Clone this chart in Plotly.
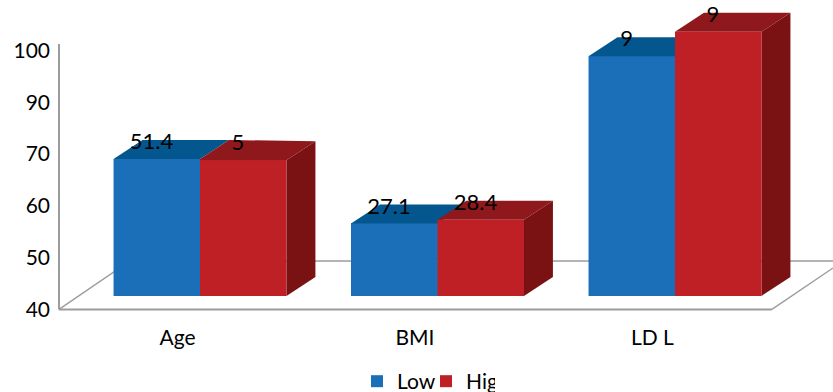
import plotly.graph_objects as go

categories = ["Age", "BMI", "LD L"]
low_heights = [69.05, 56.6, 88.9]
high_heights = [68.8, 57.3, 93.6]
low_labels = ["51.4", "27.1", "9"]
high_labels = ["5", "28.4", "9"]
y_tick_values = [40, 50, 60, 70, 80, 90]
y_tick_labels = ["40", "50", "60", "70", "90", "100"]

FONT = "Lato, Carlito, sans-serif"
BASE = 42.6
BAR_W = 0.364
DX = 0.122
DY = 3.67
BLUE, BLUE_TOP = "#1B6FB8", "#04568F"
RED, RED_TOP, RED_SIDE = "#BE2026", "#8E181B", "#7A1214"
GRAY = "#9C9C9C"

xs = list(range(len(categories)))
fig = go.Figure()


def poly(px, py, color):
    fig.add_trace(go.Scatter(x=px, y=py, mode="lines", fill="toself", fillcolor=color,
                             line=dict(width=0, color=color), showlegend=False, hoverinfo="skip"))


def gline(px, py, w=1.4):
    fig.add_trace(go.Scatter(x=px, y=py, mode="lines", line=dict(color=GRAY, width=w),
                             showlegend=False, hoverinfo="skip"))


fig.add_trace(go.Bar(x=[i - BAR_W / 2 for i in xs], y=[v - BASE for v in low_heights], base=BASE,
                     width=BAR_W, marker=dict(color=BLUE, line=dict(width=0)), name="Low"))
fig.add_trace(go.Bar(x=[i + BAR_W / 2 for i in xs], y=[v - BASE for v in high_heights], base=BASE,
                     width=BAR_W, marker=dict(color=RED, line=dict(width=0)), name="Hig"))

# floor and axis lines
gline([-0.5937, -0.5937], [91.25, 40], 2)
gline([-0.5937, 2.408], [40, 40], 2)
gline([2.408, 2.6653], [40, 48.0])
gline([-0.5937, -0.295, 2.6653], [40, 49.36, 49.36])

# bar fronts above the lines, then depth faces in painter's order
for i, lo, hi in zip(xs, low_heights, high_heights):
    x0, x1, x2 = i - BAR_W, i, i + BAR_W
    edge = max(lo, hi)
    poly([x0, x1, x1, x0, x0], [BASE, BASE, lo, lo, BASE], BLUE)
    poly([x0, x0 + DX, x1 + DX, x1, x0], [lo, lo + DY, lo + DY, lo, lo], BLUE_TOP)
    poly([x1, x1, x1 + DX, x2 + DX, x2, x1], [hi, edge, edge + DY, hi + DY, hi, hi], RED_TOP)
    poly([x2, x2 + DX, x2 + DX, x2, x2], [BASE, BASE + DY, hi + DY, hi, BASE], RED_SIDE)
    poly([x1, x2, x2, x1, x1], [BASE, BASE, hi, hi, BASE], RED)

# data labels
label_x = [i - BAR_W / 2 - 0.022 for i in xs] + [i + BAR_W / 2 - 0.022 for i in xs]
label_y = [v + DY - 0.7 for v in low_heights] + [v + DY - 0.7 for v in high_heights]
fig.add_trace(go.Scatter(x=label_x, y=label_y, mode="text", text=low_labels + high_labels,
                         textposition="middle center", textfont=dict(family=FONT, size=22, color="#000000"),
                         cliponaxis=False, showlegend=False, hoverinfo="skip"))

fig.update_layout(
    width=833, height=392, autosize=False,
    margin=dict(l=57, r=0, t=0, b=80, autoexpand=False),
    paper_bgcolor="white", plot_bgcolor="white",
    barmode="overlay", bargap=0,
    font=dict(family=FONT, color="#000000"),
    showlegend=True,
    legend=dict(orientation="h", xref="container", yref="container",
                x=0.4286, y=0.079, xanchor="left", yanchor="top",
                font=dict(family=FONT, size=21), entrywidth=24, entrywidthmode="pixels",
                bgcolor="rgba(0,0,0,0)", itemclick=False, itemdoubleclick=False,
                traceorder="normal", tracegroupgap=0),
    xaxis=dict(range=[(57 - 200) / 237.5, 2.6653], showgrid=False, zeroline=False, showline=False,
               tickmode="array", tickvals=[i - 0.095 for i in xs], ticktext=categories,
               ticks="", ticklabelstandoff=11, tickfont=dict(family=FONT, size=21)),
    yaxis=dict(range=[39.5, 99.75], showgrid=False, zeroline=False, showline=False,
               tickmode="array", tickvals=y_tick_values, ticktext=y_tick_labels,
               ticks="", ticklabelstandoff=6, tickfont=dict(family=FONT, size=21)),
)

fig.write_html("out.html", config={"displayModeBar": False},
               post_script="document.body.style.margin='0';document.documentElement.style.overflow='hidden';")
